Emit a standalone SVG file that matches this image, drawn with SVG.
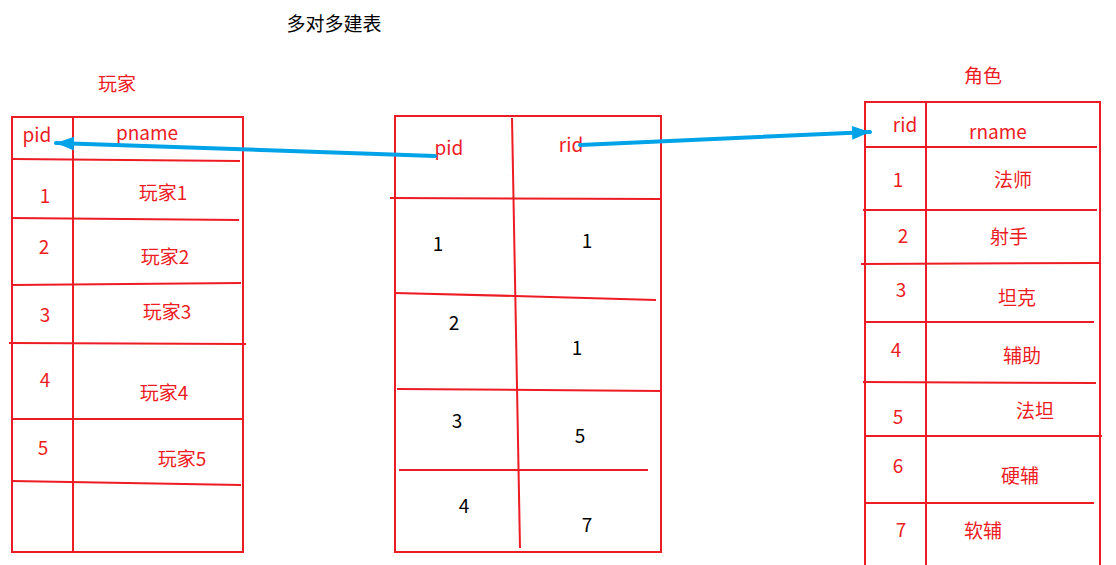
<svg xmlns="http://www.w3.org/2000/svg" width="1116" height="565" viewBox="0 0 1116 565">
<style>
.ln{stroke:#ed1c24;stroke-width:2;fill:none}
.t{font-family:"Noto Sans CJK SC","Noto Sans",sans-serif;font-size:19px;fill:#ed1c24;text-anchor:middle}
.k{fill:#000}
.ar{stroke:#00a2e8;stroke-width:4;fill:none;stroke-linecap:round}
</style>
<defs>
<marker id="ah" markerUnits="userSpaceOnUse" markerWidth="20" markerHeight="16" refX="18" refY="7" orient="auto">
<path d="M0,0 L18,7 L0,14 Z" fill="#00a2e8"/>
</marker>
</defs>
<rect width="1116" height="565" fill="#fff"/>
<text class="t k" x="334" y="31">多对多建表</text>

<g id="players">
<text class="t" x="117" y="91">玩家</text>
<rect class="ln" x="12" y="117" width="231" height="435"/>
<line class="ln" x1="73" y1="117" x2="73" y2="552"/>
<line class="ln" x1="12" y1="159" x2="240" y2="161"/>
<line class="ln" x1="11" y1="218" x2="239" y2="220"/>
<line class="ln" x1="12" y1="285" x2="241" y2="283"/>
<line class="ln" x1="9" y1="343" x2="246" y2="344"/>
<line class="ln" x1="12" y1="419" x2="242" y2="419"/>
<line class="ln" x1="12" y1="481" x2="241" y2="485"/>
<text class="t" x="37" y="142">pid</text>
<text class="t" x="147" y="140">pname</text>
<text class="t" x="45" y="203">1</text>
<text class="t" x="163" y="200">玩家1</text>
<text class="t" x="44" y="254">2</text>
<text class="t" x="165" y="264">玩家2</text>
<text class="t" x="45" y="322">3</text>
<text class="t" x="167" y="319">玩家3</text>
<text class="t" x="45" y="387">4</text>
<text class="t" x="164" y="400">玩家4</text>
<text class="t" x="43" y="455">5</text>
<text class="t" x="182" y="466">玩家5</text>
</g>

<g id="relation">
<rect class="ln" x="395" y="116" width="266" height="436"/>
<line class="ln" x1="512" y1="118" x2="520" y2="548"/>
<line class="ln" x1="390" y1="198" x2="661" y2="199"/>
<polyline class="ln" points="395,293 515,296 656,300"/>
<line class="ln" x1="397" y1="389" x2="661" y2="391"/>
<line class="ln" x1="399" y1="470" x2="648" y2="470"/>
<text class="t" x="449" y="155">pid</text>
<text class="t" x="571" y="152">rid</text>
<text class="t k" x="438" y="251">1</text>
<text class="t k" x="587" y="248">1</text>
<text class="t k" x="454" y="330">2</text>
<text class="t k" x="577" y="355">1</text>
<text class="t k" x="457" y="428">3</text>
<text class="t k" x="580" y="443">5</text>
<text class="t k" x="464" y="513">4</text>
<text class="t k" x="587" y="532">7</text>
</g>

<g id="roles">
<text class="t" x="983" y="83">角色</text>
<polyline class="ln" points="865,566 865,102 1100,102 1100,566"/>
<line class="ln" x1="926" y1="102" x2="926" y2="566"/>
<line class="ln" x1="865" y1="147" x2="1097" y2="147"/>
<line class="ln" x1="863" y1="210" x2="1097" y2="210"/>
<line class="ln" x1="861" y1="264" x2="1099" y2="263"/>
<line class="ln" x1="865" y1="322" x2="1094" y2="322"/>
<line class="ln" x1="863" y1="382" x2="1096" y2="383"/>
<line class="ln" x1="865" y1="436" x2="1102" y2="436"/>
<line class="ln" x1="865" y1="503" x2="1094" y2="503"/>
<text class="t" x="905" y="132">rid</text>
<text class="t" x="998" y="139">rname</text>
<text class="t" x="898" y="187">1</text>
<text class="t" x="1013" y="187">法师</text>
<text class="t" x="903" y="243">2</text>
<text class="t" x="1009" y="244">射手</text>
<text class="t" x="901" y="297">3</text>
<text class="t" x="1017" y="305">坦克</text>
<text class="t" x="896" y="357">4</text>
<text class="t" x="1022" y="363">辅助</text>
<text class="t" x="898" y="424">5</text>
<text class="t" x="1035" y="418">法坦</text>
<text class="t" x="898" y="473">6</text>
<text class="t" x="1020" y="483">硬辅</text>
<text class="t" x="901" y="537">7</text>
<text class="t" x="983" y="538">软辅</text>
</g>

<g id="connectors">
<line class="ar" x1="435" y1="156" x2="56" y2="143" marker-end="url(#ah)"/>
<line class="ar" x1="580" y1="145" x2="870" y2="132" marker-end="url(#ah)"/>
</g>
</svg>
